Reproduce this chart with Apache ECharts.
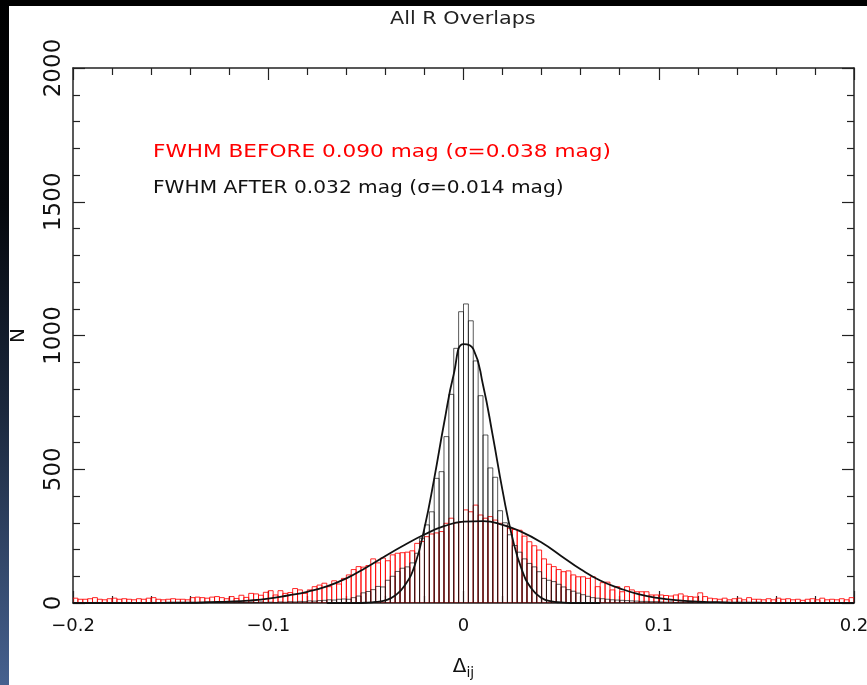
<!DOCTYPE html>
<html>
<head>
<meta charset="utf-8">
<script src="https://cdn.jsdelivr.net/npm/echarts@6/dist/echarts.min.js"></script>
<style>
  body { margin: 0; background: #fff; }
  #wrap { position: relative; width: 867px; height: 685px; }
  #chart { width: 867px; height: 685px; }
  .edgeTop { position: absolute; left: 0; top: 0; width: 867px; height: 6px; background: #000; }
  .edgeLeft { position: absolute; left: 0; top: 0; width: 9px; height: 685px;
    background: linear-gradient(to bottom, #000 0%, #05080d 30%, #1b283d 60%, #46618f 100%); }
</style>
</head>
<body>
<div id="wrap">
  <div id="chart"></div>
  <div class="edgeTop"></div>
  <div class="edgeLeft"></div>
</div>
<script>
// histogram bins: -0.2 .. 0.2, 0.0025 wide
var binStart = -0.2;
var binWidth = 0.0025;

// red = before, black = after (counts per bin)
var redCounts = [
  18,14,14,16,20,14,12,16,18,14,16,14,12,16,14,18,20,14,12,14,16,14,14,12,20,22,20,18,22,24,20,16,
  24,17,29,21,36,34,29,40,
  46,30,46,36,39,54,49,36,49,61,67,74,61,83,71,92,
  105,125,136,134,140,165,150,168,158,180,186,
  188,190,195,223,230,248,258,262,267,298,317,300,304,
  348,341,366,329,317,323,310,298,290,279,275,272,250,229,214,198,165,145,136,125,
  117,120,105,98,98,92,98,61,76,78,49,61,42,61,49,42,42,42,30,30,
  30,28,26,30,34,26,24,22,38,24,
  18,16,14,18,12,16,18,12,20,14,
  14,12,16,12,18,14,16,12,14,10,14,16,12,18,12,14,12,16,12,20
];
var blackCounts = [
  0,1,0,0,2,0,1,0,0,1,0,2,0,1,0,0,2,1,0,1,0,2,1,0,2,1,1,3,0,2,1,2,0,3,2,1,3,2,4,2,
  3,2,4,3,5,4,6,5,8,7,9,10,12,11,14,15,
  14,20,26,38,43,50,62,60,85,100,118,130,
  135,150,186,242,292,341,466,491,622,780,952,1089,
  1118,1055,905,775,628,505,470,345,300,255,215,190,165,
  148,135,117,92,85,80,70,60,50,44,37,31,25,20,
  18,16,14,12,11,10,9,8,7,6,6,5,5,
  4,3,4,2,3,3,2,4,2,1,2,3,1,2,1,0,2,1,1,0,2,1,0,1,1,0,2,0,1,0,1,0,0,1,0,2,0,1,0,0
];

// fitted curves, points
var redFitX = [-0.2,-0.19,-0.18,-0.17,-0.16,-0.15,-0.14,-0.13,-0.12,-0.11,-0.1,-0.09,-0.08,-0.07,-0.06,-0.05,-0.04,-0.03,-0.02,-0.01,
  0,0.01,0.02,0.03,0.04,0.05,0.06,0.07,0.08,0.09,0.1,0.11,0.12,0.13,0.14,0.15,0.16,0.17,0.18,0.19,0.2];
var redFitN = [0,0,0,0,0,1,1,3,5,9,16,28,42,62,92,132,176,218,256,287,
  304,306,292,265,226,176,126,84,55,32,18,10,5,3,1,1,0,0,0,0,0];
var blackFitX = [-0.07,-0.065,-0.06,-0.055,-0.05,-0.045,-0.04,-0.035,-0.03,-0.025,-0.02,-0.015,-0.01,-0.005,
  0,0.005,0.01,0.015,0.02,0.025,0.03,0.035,0.04,0.045,0.05,0.055,0.06,0.065,0.07];
var blackFitN = [0,0,0,0,1,4,10,28,66,140,280,465,670,855,
  968,950,815,625,420,245,122,52,19,6,2,0,0,0,0];

var textBefore = 'FWHM BEFORE 0.090 mag (σ=0.038 mag)';
var textAfter = 'FWHM AFTER 0.032 mag (σ=0.014 mag)';

var fontName = 'DejaVu Sans';

function toBins(counts) {
  return counts.map(function (n, i) {
    return [binStart + i * binWidth, binStart + (i + 1) * binWidth, n];
  });
}

function outlineBars(color) {
  return function (params, api) {
    var p0 = api.coord([api.value(0), api.value(2)]);
    var p1 = api.coord([api.value(1), 0]);
    return {
      type: 'rect',
      shape: { x: p0[0], y: p0[1], width: p1[0] - p0[0], height: p1[1] - p0[1] },
      style: { fill: 'none', stroke: color, lineWidth: 1 }
    };
  };
}

function pairs(xs, ys) {
  return xs.map(function (x, i) { return [x, ys[i]]; });
}

var minus = function (v) { return String(v).replace('-', '\u2212'); };

var chart = echarts.init(document.getElementById('chart'));

var tickCommon = {
  axisLine: { show: true, onZero: false, lineStyle: { color: '#222', width: 1.5 } },
  axisTick: { show: true, inside: true, length: 12, lineStyle: { color: '#222', width: 1.2 } },
  minorTick: { show: true, splitNumber: 5, length: 7, lineStyle: { color: '#222', width: 1.2 } },
  splitLine: { show: false }
};

var option = {
  backgroundColor: '#fff',
  animation: false,
  grid: { left: 73, right: 13, top: 68, bottom: 82, containLabel: false, outerBoundsMode: 'none' },
  xAxis: [
    Object.assign({
      type: 'value', min: -0.2, max: 0.2, interval: 0.1, position: 'bottom',
      axisLabel: { margin: 14, color: '#111', fontSize: 18, fontFamily: fontName, formatter: minus },
      name: '{d|Δ}{s|ij}', nameLocation: 'middle', nameGap: 51,
      nameTextStyle: { rich: { d: { fontSize: 20, fontFamily: fontName, color: '#111' },
                               s: { fontSize: 14, fontFamily: fontName, color: '#111', padding: [12, 0, 0, 0] } } }
    }, tickCommon),
    Object.assign({
      type: 'value', min: -0.2, max: 0.2, interval: 0.1, position: 'top',
      axisLabel: { show: false }
    }, tickCommon)
  ],
  yAxis: [
    Object.assign({
      type: 'value', min: 0, max: 2000, interval: 500, position: 'left',
      axisLabel: { margin: 7, rotate: 90, color: '#111', fontSize: 23, fontFamily: fontName,
                   formatter: function (v) { return String(v); } },
      name: 'N', nameLocation: 'middle', nameGap: 44, nameRotate: 90,
      nameTextStyle: { fontSize: 20, fontFamily: fontName, color: '#111' }
    }, tickCommon),
    Object.assign({
      type: 'value', min: 0, max: 2000, interval: 500, position: 'right',
      axisLabel: { show: false }
    }, tickCommon)
  ],
  graphic: [
    { type: 'text', left: 390, top: 11, scaleX: 1.22,
      style: { text: 'All R Overlaps', fontSize: 17, fontFamily: fontName, fill: '#222' } },
    { type: 'text', x: 153, y: 152, scaleX: 1.2,
      style: { text: textBefore, fontSize: 18, fontFamily: fontName, fill: '#ff0000', verticalAlign: 'middle' } },
    { type: 'text', x: 153, y: 188, scaleX: 1.12,
      style: { text: textAfter, fontSize: 18, fontFamily: fontName, fill: '#111', verticalAlign: 'middle' } }
  ],
  series: [
    {
      name: 'before', type: 'custom', renderItem: outlineBars('rgba(255,0,0,0.85)'),
      encode: { x: [0, 1], y: 2 }, data: toBins(redCounts), clip: true, z: 2
    },
    {
      name: 'after', type: 'custom', renderItem: outlineBars('rgba(20,20,20,0.7)'),
      encode: { x: [0, 1], y: 2 }, data: toBins(blackCounts), clip: true, z: 3
    },
    {
      name: 'fit before', type: 'line', data: pairs(redFitX, redFitN), smooth: 0.5,
      showSymbol: false, lineStyle: { color: '#111', width: 1.8 }, z: 4
    },
    {
      name: 'fit after', type: 'line', data: pairs(blackFitX, blackFitN), smooth: 0.5,
      showSymbol: false, lineStyle: { color: '#111', width: 1.8 }, z: 4
    }
  ]
};

chart.setOption(option);
</script>
</body>
</html>
